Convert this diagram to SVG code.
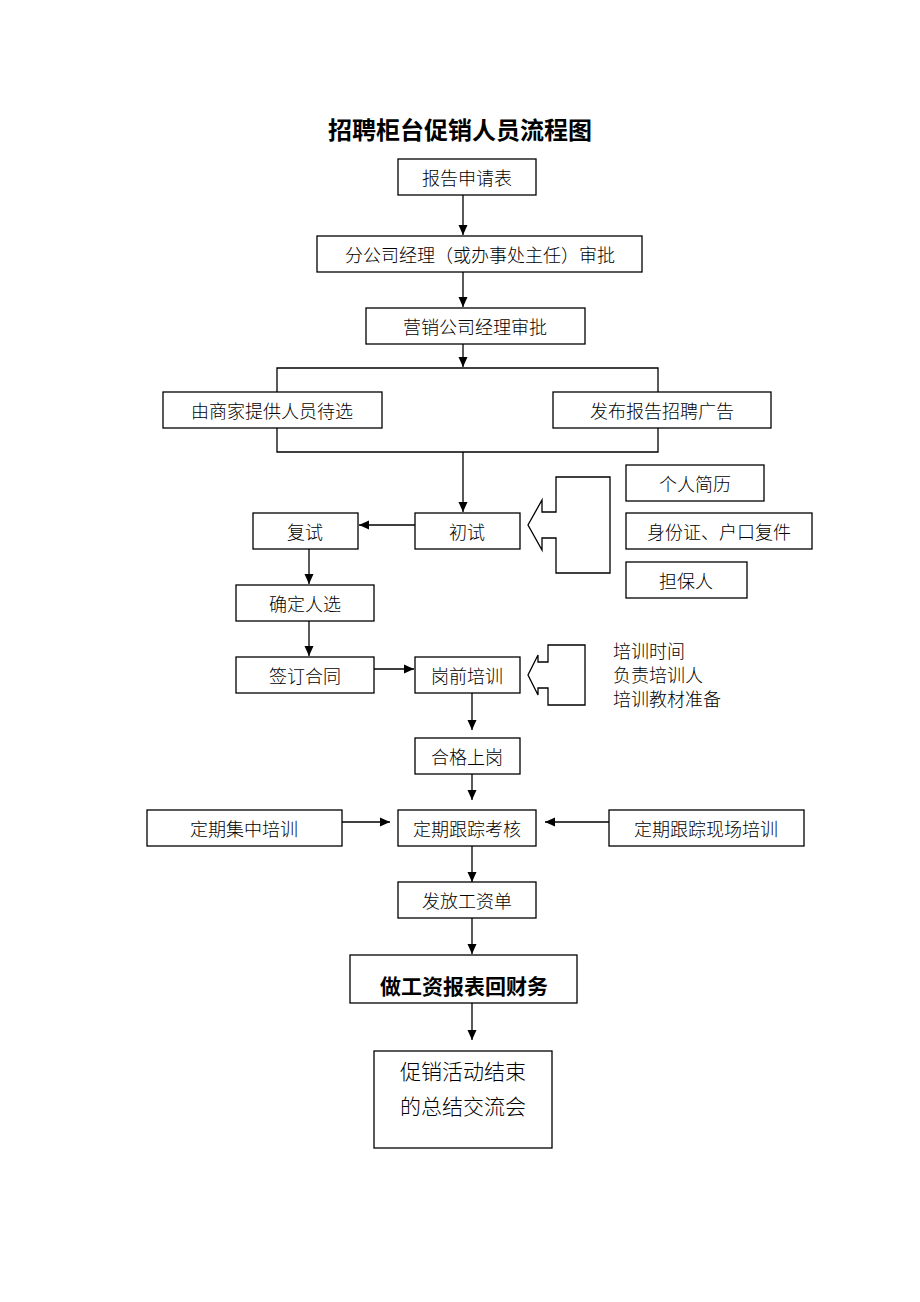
<svg xmlns="http://www.w3.org/2000/svg" width="920" height="1302" viewBox="0 0 920 1302">
<style>
.box{fill:#fff;stroke:#000;stroke-width:1.3}
.t{font-family:"Noto Sans CJK SC","Liberation Sans",sans-serif;font-size:18px;font-weight:300;fill:#000;text-anchor:middle;dominant-baseline:central}
.tl{font-family:"Noto Sans CJK SC","Liberation Sans",sans-serif;font-size:18px;font-weight:300;fill:#000}
.b{font-family:"Noto Sans CJK SC","Liberation Sans",sans-serif;font-size:21px;font-weight:700;fill:#000;text-anchor:middle;dominant-baseline:central}
.c{fill:none;stroke:#000;stroke-width:1.3}
</style>
<defs>
<marker id="ah" markerUnits="userSpaceOnUse" markerWidth="10" markerHeight="10" viewBox="0 0 10 10" refX="10" refY="5" orient="auto">
<path d="M0,0.5 L10,5 L0,9.5 Z" fill="#000"/>
</marker>
</defs>
<rect width="920" height="1302" fill="#fff"/>
<text x="460" y="128" class="b" style="font-size:24px">招聘柜台促销人员流程图</text>

<g id="connectors">
<line class="c" x1="463" y1="195" x2="463" y2="235" marker-end="url(#ah)"/>
<line class="c" x1="463" y1="272" x2="463" y2="307" marker-end="url(#ah)"/>
<line class="c" x1="463" y1="344" x2="463" y2="367" marker-end="url(#ah)"/>
<polyline class="c" points="277,392 277,368 658,368 658,392"/>
<polyline class="c" points="277,428 277,452 658,452 658,428"/>
<line class="c" x1="463" y1="452" x2="463" y2="512" marker-end="url(#ah)"/>
<line class="c" x1="415" y1="525" x2="359" y2="525" marker-end="url(#ah)"/>
<line class="c" x1="309" y1="549" x2="309" y2="584" marker-end="url(#ah)"/>
<line class="c" x1="309" y1="621" x2="309" y2="656" marker-end="url(#ah)"/>
<line class="c" x1="374" y1="669" x2="414" y2="669" marker-end="url(#ah)"/>
<line class="c" x1="472" y1="693" x2="472" y2="730" marker-end="url(#ah)"/>
<line class="c" x1="472" y1="774" x2="472" y2="800" marker-end="url(#ah)"/>
<line class="c" x1="342" y1="822" x2="390" y2="822" marker-end="url(#ah)"/>
<line class="c" x1="609" y1="822" x2="545" y2="822" marker-end="url(#ah)"/>
<line class="c" x1="472" y1="846" x2="472" y2="882" marker-end="url(#ah)"/>
<line class="c" x1="472" y1="918" x2="472" y2="954" marker-end="url(#ah)"/>
<line class="c" x1="472" y1="1003" x2="472" y2="1040" marker-end="url(#ah)"/>
<polygon class="c" points="610,477 556,477 556,512 542,512 542,500 528,525 542,550 542,538 556,538 556,573 610,573"/>
<polygon class="c" points="585,645 548,645 548,662 538,662 538,655 528,675 538,695 538,688 548,688 548,705 585,705"/>
</g>

<g id="n1"><rect class="box" x="398" y="159" width="138" height="36"/><text class="t" x="467" y="177">报告申请表</text></g>
<g id="n2"><rect class="box" x="317" y="236" width="325" height="36"/><text class="t" x="480" y="254">分公司经理（或办事处主任）审批</text></g>
<g id="n3"><rect class="box" x="366" y="308" width="219" height="36"/><text class="t" x="475" y="326">营销公司经理审批</text></g>
<g id="n4"><rect class="box" x="163" y="392" width="219" height="36"/><text class="t" x="272" y="410">由商家提供人员待选</text></g>
<g id="n5"><rect class="box" x="553" y="392" width="218" height="36"/><text class="t" x="662" y="410">发布报告招聘广告</text></g>
<g id="n6"><rect class="box" x="415" y="513" width="105" height="36"/><text class="t" x="467" y="531">初试</text></g>
<g id="n7"><rect class="box" x="253" y="513" width="105" height="36"/><text class="t" x="305" y="531">复试</text></g>
<g id="n8"><rect class="box" x="626" y="465" width="138" height="36"/><text class="t" x="695" y="483">个人简历</text></g>
<g id="n9"><rect class="box" x="626" y="513" width="186" height="36"/><text class="t" x="719" y="531">身份证、户口复件</text></g>
<g id="n10"><rect class="box" x="626" y="562" width="121" height="36"/><text class="t" x="686" y="580">担保人</text></g>
<g id="n11"><rect class="box" x="236" y="585" width="138" height="36"/><text class="t" x="305" y="603">确定人选</text></g>
<g id="n12"><rect class="box" x="236" y="657" width="138" height="36"/><text class="t" x="305" y="675">签订合同</text></g>
<g id="n13"><rect class="box" x="415" y="657" width="105" height="36"/><text class="t" x="467" y="675">岗前培训</text></g>
<g id="n14"><text class="tl" x="613" y="658">培训时间</text><text class="tl" x="613" y="682">负责培训人</text><text class="tl" x="613" y="706">培训教材准备</text></g>
<g id="n15"><rect class="box" x="415" y="738" width="105" height="36"/><text class="t" x="467" y="756">合格上岗</text></g>
<g id="n16"><rect class="box" x="398" y="810" width="138" height="36"/><text class="t" x="467" y="828">定期跟踪考核</text></g>
<g id="n17"><rect class="box" x="147" y="810" width="195" height="36"/><text class="t" x="244" y="828">定期集中培训</text></g>
<g id="n18"><rect class="box" x="609" y="810" width="195" height="36"/><text class="t" x="706" y="828">定期跟踪现场培训</text></g>
<g id="n19"><rect class="box" x="398" y="882" width="138" height="36"/><text class="t" x="467" y="900">发放工资单</text></g>
<g id="n20"><rect class="box" x="350" y="955" width="227" height="48"/><text class="b" x="464" y="985">做工资报表回财务</text></g>
<g id="n21"><rect class="box" x="374" y="1051" width="178" height="97"/><text class="tl" x="400" y="1079" style="font-size:21px">促销活动结束</text><text class="tl" x="400" y="1114" style="font-size:21px">的总结交流会</text></g>
</svg>
